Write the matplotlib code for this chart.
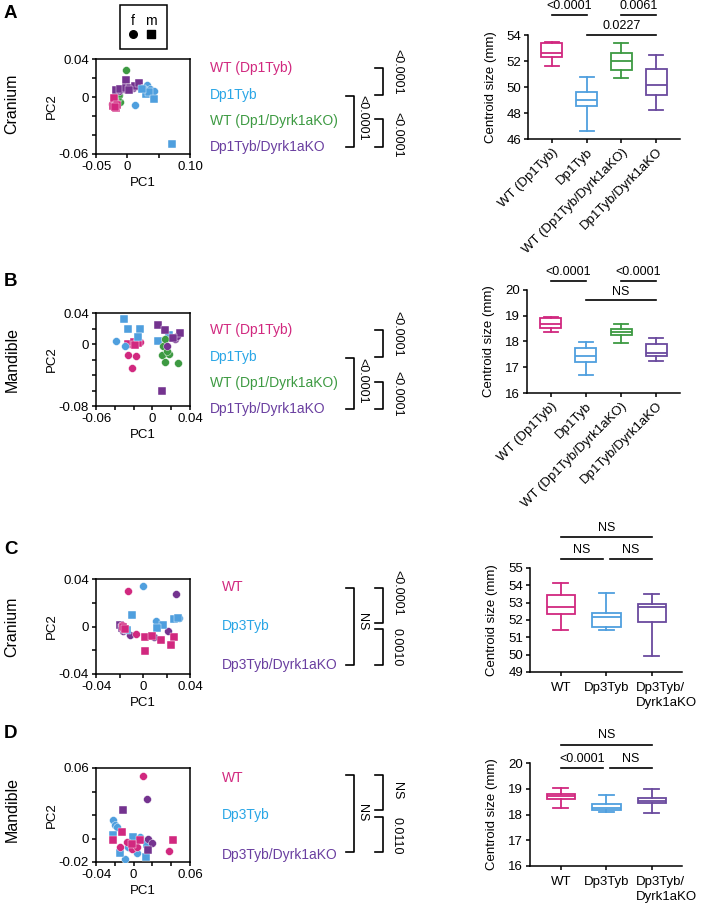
import matplotlib
matplotlib.use("Agg")
import matplotlib.pyplot as plt
from matplotlib.patches import Rectangle
from matplotlib.transforms import ScaledTranslation

plt.rcParams['font.family'] = ['Liberation Sans', 'DejaVu Sans']
plt.rcParams['font.size'] = 9.5
plt.rcParams['axes.linewidth'] = 1.1
for a in ('xtick', 'ytick'):
    plt.rcParams[a + '.major.width'] = 1.1
    plt.rcParams[a + '.major.size'] = 3
    plt.rcParams[a + '.major.pad'] = 2

W, H = 705, 908

# colours per genotype
MAG = '#d1287f'
BLU = '#4f9fde'
GRN = '#3d9a42'
PUR = '#74338f'
PUR_BOX = '#6a4a9e'
LBL_BLU = '#2aa6e6'
LBL_PUR = '#6a3fa0'

# ---------------- PCA scatter data (female = circle, male = square) ----------------
# panel A : cranium, Dp1Tyb cross
A_wt_f_x = [-0.025, -0.022, -0.019]
A_wt_f_y = [-0.007, -0.005, -0.010]
A_wt_m_x = [-0.022, -0.020, -0.023, -0.018, -0.022, -0.017, -0.019]
A_wt_m_y = [-0.003, -0.0065, -0.009, -0.012, -0.001, -0.008, -0.011]
A_dp_f_x = [0.023, 0.031, 0.027, 0.036, 0.042, 0.012]
A_dp_f_y = [0.010, 0.013, 0.008, 0.008, 0.006, -0.008]
A_dp_m_x = [0.030, 0.035, 0.043, 0.072, 0.023]
A_dp_m_y = [0.003, 0.005, -0.002, -0.049, 0.008]
A_wt2_f_x = [-0.002, -0.014, -0.016, -0.012, -0.018]
A_wt2_f_y = [0.028, 0.002, -0.002, -0.005, 0.001]
A_wt2_m_x = [-0.015, -0.013]
A_wt2_m_y = [0.000, 0.003]
A_ko_f_x = [-0.014, 0.009, 0.016, -0.006]
A_ko_f_y = [0.006, 0.009, 0.012, 0.008]
A_ko_m_x = [-0.002, -0.018, -0.011, -0.002, 0.005, 0.012, 0.019, 0.002]
A_ko_m_y = [0.018, 0.007, 0.008, 0.010, 0.010, 0.012, 0.015, 0.007]

# panel B : mandible, Dp1Tyb cross
B_wt_f_x = [-0.026, -0.017, -0.022, -0.024, -0.013]
B_wt_f_y = [-0.014, -0.016, -0.031, 0.000, 0.002]
B_wt_m_x = [-0.026, -0.020, -0.015, -0.018]
B_wt_m_y = [0.0004, 0.002, 0.001, -0.001]
B_dp_f_x = [-0.039, -0.029]
B_dp_f_y = [0.004, -0.003]
B_dp_m_x = [-0.030, -0.026, -0.013, -0.015, 0.006, 0.018]
B_dp_m_y = [0.032, 0.019, 0.019, 0.009, 0.004, 0.012]
B_wt2_f_x = [0.011, 0.010, 0.018, 0.013, 0.027, 0.013, 0.015]
B_wt2_f_y = [-0.003, -0.014, -0.0125, -0.023, -0.0245, 0.006, -0.0095]
B_wt2_m_x = []
B_wt2_m_y = []
B_ko_f_x = [0.024, 0.016, 0.026]
B_ko_f_y = [0.006, -0.003, 0.010]
B_ko_m_x = [0.006, 0.013, 0.029, 0.022, 0.010]
B_ko_m_y = [0.024, 0.018, 0.014, 0.008, -0.060]

# panel C : cranium, Dp3Tyb cross
C_wt_f_x = [-0.013, -0.018, -0.016, -0.006]
C_wt_f_y = [0.030, 0.001, -0.002, -0.006]
C_wt_m_x = [-0.017, -0.015, 0.002, 0.015, 0.026, 0.024, 0.002, 0.008]
C_wt_m_y = [0.000, -0.002, -0.009, -0.011, -0.0085, -0.0155, -0.021, -0.008]
C_dp_f_x = [0.0003, 0.011, 0.031]
C_dp_f_y = [0.034, 0.005, 0.007]
C_dp_m_x = [-0.009, 0.017, 0.012, 0.026, 0.030, -0.014]
C_dp_m_y = [0.010, 0.0014, -0.0014, 0.0065, 0.007, -0.003]
C_ko_f_x = [0.028, -0.011, 0.009, 0.021, -0.017]
C_ko_f_y = [0.027, -0.007, -0.0085, -0.004, -0.004]
C_ko_m_x = [-0.0196, -0.018, -0.015]
C_ko_m_y = [0.0014, -0.0014, -0.0023]

# panel D : mandible, Dp3Tyb cross
D_wt_f_x = [0.0096, -0.0145, -0.0074, -0.0021, 0.0033, 0.038]
D_wt_f_y = [0.053, -0.007, -0.003, -0.0086, -0.0071, -0.0106]
D_wt_m_x = [-0.0216, -0.0127, 0.0416, 0.0068, -0.0021]
D_wt_m_y = [-0.0009, 0.0057, -0.0009, -0.0014, -0.0043]
D_dp_f_x = [-0.0216, -0.0198, -0.018, -0.0091, 0.0068, 0.0033, -0.0056]
D_dp_f_y = [0.0157, 0.0114, 0.010, -0.0171, 0.0009, -0.0123, -0.0071]
D_dp_m_x = [-0.0223, -0.0003, 0.0139, 0.0132, -0.0145]
D_dp_m_y = [0.0034, 0.0009, -0.0043, -0.0157, -0.0123]
D_ko_f_x = [0.0139, 0.0157, 0.0192]
D_ko_f_y = [0.0337, -0.0006, -0.0037]
D_ko_m_x = [-0.0109, 0.0157]
D_ko_m_y = [0.0243, -0.010]

# ---------------- centroid size box plots ----------------
box_A_labels = ['WT (Dp1Tyb)', 'Dp1Tyb', 'WT (Dp1Tyb/Dyrk1aKO)', 'Dp1Tyb/Dyrk1aKO']
box_A_whislo = [51.65, 46.6, 50.7, 48.2]
box_A_q1 = [52.28, 48.55, 51.3, 49.35]
box_A_med = [52.58, 49.0, 52.02, 50.17]
box_A_q3 = [53.36, 49.6, 52.6, 51.4]
box_A_whishi = [53.5, 50.8, 53.35, 52.45]

box_B_labels = box_A_labels
box_B_whislo = [18.35, 16.7, 17.96, 17.26]
box_B_q1 = [18.54, 17.19, 18.25, 17.45]
box_B_med = [18.67, 17.42, 18.37, 17.55]
box_B_q3 = [18.9, 17.74, 18.5, 17.92]
box_B_whishi = [18.97, 17.99, 18.68, 18.14]

box_C_labels = ['WT', 'Dp3Tyb', 'Dp3Tyb/\nDyrk1aKO']
box_C_whislo = [51.4, 51.4, 49.95]
box_C_q1 = [52.35, 51.57, 51.86]
box_C_med = [52.73, 52.16, 52.73]
box_C_q3 = [53.44, 52.39, 52.92]
box_C_whishi = [54.14, 53.57, 53.5]

box_D_labels = box_C_labels
box_D_whislo = [18.27, 18.09, 18.04]
box_D_q1 = [18.62, 18.19, 18.43]
box_D_med = [18.73, 18.27, 18.54]
box_D_q3 = [18.81, 18.41, 18.65]
box_D_whishi = [19.03, 18.75, 18.99]

group_names_1 = ['WT (Dp1Tyb)', 'Dp1Tyb', 'WT (Dp1/Dyrk1aKO)', 'Dp1Tyb/Dyrk1aKO']
group_names_3 = ['WT', 'Dp3Tyb', 'Dp3Tyb/Dyrk1aKO']


def rect(l, t, r, b):
    return [l / W, 1 - b / H, (r - l) / W, (b - t) / H]


fig = plt.figure(figsize=(W / 100, H / 100), dpi=100)


def scatter_panel(box, groups, xlim, ylim, xticks, xlabels, yticks, ylabels):
    ax = fig.add_axes(rect(*box))
    for (fx, fy, mx, my, c) in groups:
        ax.scatter(fx, fy, s=32, marker='o', color=c, edgecolors='white', linewidths=0.3, zorder=3)
        ax.scatter(mx, my, s=32, marker='s', color=c, edgecolors='white', linewidths=0.3, zorder=3)
    ax.set_xlim(*xlim)
    ax.set_ylim(*ylim)
    ax.set_xticks(xticks)
    ax.set_xticklabels(xlabels)
    ax.set_yticks(yticks)
    ax.set_yticklabels(ylabels)
    ax.set_xlabel('PC1', labelpad=3)
    ax.set_ylabel('PC2', labelpad=1)
    return ax


scatter_panel((96, 59, 190, 154),
              [(A_wt2_f_x, A_wt2_f_y, A_wt2_m_x, A_wt2_m_y, GRN),
               (A_ko_f_x, A_ko_f_y, A_ko_m_x, A_ko_m_y, PUR),
               (A_dp_f_x, A_dp_f_y, A_dp_m_x, A_dp_m_y, BLU),
               (A_wt_f_x, A_wt_f_y, A_wt_m_x, A_wt_m_y, MAG)],
              (-0.05, 0.10), (-0.06, 0.04),
              [-0.05, 0, 0.05, 0.10], ['-0.05', '0', '', '0.10'],
              [-0.06, -0.04, -0.02, 0, 0.02, 0.04], ['-0.06', '', '', '0', '', '0.04'])

scatter_panel((96, 313, 190, 406),
              [(B_wt_f_x, B_wt_f_y, B_wt_m_x, B_wt_m_y, MAG),
               (B_dp_f_x, B_dp_f_y, B_dp_m_x, B_dp_m_y, BLU),
               (B_wt2_f_x, B_wt2_f_y, B_wt2_m_x, B_wt2_m_y, GRN),
               (B_ko_f_x, B_ko_f_y, B_ko_m_x, B_ko_m_y, PUR)],
              (-0.06, 0.04), (-0.08, 0.04),
              [-0.06, -0.04, -0.02, 0, 0.02, 0.04], ['-0.06', '', '', '0', '', '0.04'],
              [-0.08, -0.06, -0.04, -0.02, 0, 0.02, 0.04], ['-0.08', '', '', '', '0', '', '0.04'])

scatter_panel((96, 579, 190, 674),
              [(C_ko_f_x, C_ko_f_y, C_ko_m_x, C_ko_m_y, PUR),
               (C_dp_f_x, C_dp_f_y, C_dp_m_x, C_dp_m_y, BLU),
               (C_wt_f_x, C_wt_f_y, C_wt_m_x, C_wt_m_y, MAG)],
              (-0.04, 0.04), (-0.04, 0.04),
              [-0.04, -0.02, 0, 0.02, 0.04], ['-0.04', '', '0', '', '0.04'],
              [-0.04, -0.02, 0, 0.02, 0.04], ['-0.04', '', '0', '', '0.04'])

scatter_panel((96, 768, 190, 862),
              [(D_dp_f_x, D_dp_f_y, D_dp_m_x, D_dp_m_y, BLU),
               (D_wt_f_x, D_wt_f_y, D_wt_m_x, D_wt_m_y, MAG),
               (D_ko_f_x, D_ko_f_y, D_ko_m_x, D_ko_m_y, PUR)],
              (-0.04, 0.06), (-0.02, 0.06),
              [-0.04, -0.02, 0, 0.02, 0.04, 0.06], ['-0.04', '', '0', '', '', '0.06'],
              [-0.02, 0, 0.02, 0.04, 0.06], ['-0.02', '0', '', '', '0.06'])


def box_panel(box, labels, lo, q1, med, q3, hi, colors, ylim, yticks, xlim, width, capw, rotate):
    ax = fig.add_axes(rect(*box))
    stats = []
    for i in range(len(labels)):
        stats.append(dict(label=labels[i], whislo=lo[i], q1=q1[i], med=med[i], q3=q3[i],
                          whishi=hi[i], fliers=[]))
    pos = list(range(len(labels)))
    bp = ax.bxp(stats, positions=pos, widths=width, capwidths=capw, showfliers=False,
                patch_artist=True)
    for i, c in enumerate(colors):
        bp['boxes'][i].set(facecolor='white', edgecolor=c, linewidth=1.3)
        bp['medians'][i].set(color=c, linewidth=1.3)
        for k in (2 * i, 2 * i + 1):
            bp['whiskers'][k].set(color=c, linewidth=1.3)
            bp['caps'][k].set(color=c, linewidth=1.3)
    ax.set_xlim(*xlim)
    ax.set_ylim(*ylim)
    ax.set_yticks(yticks)
    ax.spines['top'].set_visible(False)
    ax.spines['right'].set_visible(False)
    ax.set_ylabel('Centroid size (mm)', labelpad=7)
    ax.set_xticks(pos)
    if rotate:
        ax.set_xticklabels(labels, rotation=45, ha='right', rotation_mode='anchor')
    else:
        ax.set_xticklabels(labels, linespacing=1.35)
        ax.tick_params(axis='x', pad=4)
        last = ax.get_xticklabels()[-1]
        last.set_multialignment('left')
        last.set_transform(last.get_transform() + ScaledTranslation(0.14, 0, fig.dpi_scale_trans))
    return ax


def sig(ax, x1, x2, y, ty, txt):
    ax.plot([x1, x2], [y, y], color='black', lw=1.2, clip_on=False)
    ax.text((x1 + x2) / 2, ty, txt, ha='center', va='center', fontsize=9, clip_on=False)


colsA = [MAG, BLU, GRN, PUR_BOX]
axA = box_panel((528, 35, 680, 139), box_A_labels, box_A_whislo, box_A_q1, box_A_med,
                box_A_q3, box_A_whishi, colsA, (46, 54), [46, 48, 50, 52, 54],
                (-0.68, 3.68), 0.6, 0.4, True)
sig(axA, 0, 1, 55.54, 56.25, '<0.0001')
sig(axA, 2, 3, 55.54, 56.25, '0.0061')
sig(axA, 1, 3, 54.03, 54.72, '0.0227')

axB = box_panel((527, 290, 680, 393), box_B_labels, box_B_whislo, box_B_q1, box_B_med,
                box_B_q3, box_B_whishi, colsA, (16, 20), [16, 17, 18, 19, 20],
                (-0.68, 3.68), 0.6, 0.4, True)
sig(axB, 0, 1, 20.35, 20.68, '<0.0001')
sig(axB, 2, 3, 20.35, 20.68, '<0.0001')
sig(axB, 1, 3, 19.6, 19.94, 'NS')

colsC = [MAG, BLU, PUR_BOX]
axC = box_panel((530, 568, 682, 672), box_C_labels, box_C_whislo, box_C_q1, box_C_med,
                box_C_q3, box_C_whishi, colsC, (49, 55), [49, 50, 51, 52, 53, 54, 55],
                (-0.68, 2.66), 0.62, 0.33, False)
sig(axC, 0, 2, 56.77, 57.3, 'NS')
sig(axC, 0, 0.92, 55.5, 56.02, 'NS')
sig(axC, 1.08, 2, 55.5, 56.02, 'NS')

axD = box_panel((530, 763, 682, 866), box_D_labels, box_D_whislo, box_D_q1, box_D_med,
                box_D_q3, box_D_whishi, colsC, (16, 20), [16, 17, 18, 19, 20],
                (-0.68, 2.66), 0.62, 0.33, False)
sig(axD, 0, 2, 20.71, 21.07, 'NS')
sig(axD, 0, 0.92, 19.82, 20.17, '<0.0001')
sig(axD, 1.08, 2, 19.82, 20.17, 'NS')

# ---------------- overlay for labels, brackets, legend ----------------
ov = fig.add_axes([0, 0, 1, 1])
ov.set_xlim(0, W)
ov.set_ylim(H, 0)
ov.axis('off')
ov.patch.set_alpha(0)

for letter, y in (('A', 5), ('B', 273), ('C', 541), ('D', 725)):
    ov.text(4, y, letter, fontsize=13.5, fontweight='bold', ha='left', va='top')

for name, y in (('Cranium', 104), ('Mandible', 360), ('Cranium', 627), ('Mandible', 809)):
    ov.text(12, y, name, fontsize=11.5, rotation=90, ha='center', va='center')

# sex legend
ov.add_patch(Rectangle((120, 5), 47, 44, fill=False, lw=1.1, ec='black'))
ov.text(133, 21, 'f', fontsize=10, ha='center', va='center')
ov.text(151, 21, 'm', fontsize=10, ha='center', va='center')
ov.scatter([133], [34], s=30, marker='o', color='black')
ov.scatter([151], [34], s=30, marker='s', color='black')

cols1 = [MAG, LBL_BLU, GRN, LBL_PUR]
for ys in ((68, 95, 121, 147), (330, 357, 383, 409)):
    for name, y, c in zip(group_names_1, ys, cols1):
        ov.text(210, y, name, color=c, fontsize=10, ha='left', va='center')
cols3 = [MAG, LBL_BLU, LBL_PUR]
for ys in ((587, 626, 665), (778, 815, 855)):
    for name, y, c in zip(group_names_3, ys, cols3):
        ov.text(222, y, name, color=c, fontsize=10, ha='left', va='center')


def bracket(x, y1, y2, txt, dx, ty):
    ov.plot([x - 8, x, x, x - 8], [y1, y1, y2, y2], color='black', lw=1.2)
    ov.text(x + dx, ty, txt, rotation=270, fontsize=9, ha='center', va='center')


bracket(383, 68, 95, '<0.0001', 14, 72)
bracket(383, 119, 147, '<0.0001', 14, 135)
bracket(354, 96, 147, '<0.0001', 8, 118)

bracket(383, 330, 357, '<0.0001', 14, 334)
bracket(383, 382, 409, '<0.0001', 14, 394)
bracket(354, 358, 409, '<0.0001', 8, 381)

bracket(383, 588, 623, '<0.0001', 14, 593)
bracket(383, 629, 665, '0.0010', 14, 647)
bracket(354, 588, 665, 'NS', 8, 622)

bracket(383, 775, 810, 'NS', 14, 791)
bracket(383, 817, 852, '0.0110', 14, 836)
bracket(354, 775, 852, 'NS', 8, 813)

fig.savefig('out.png', dpi=100)
